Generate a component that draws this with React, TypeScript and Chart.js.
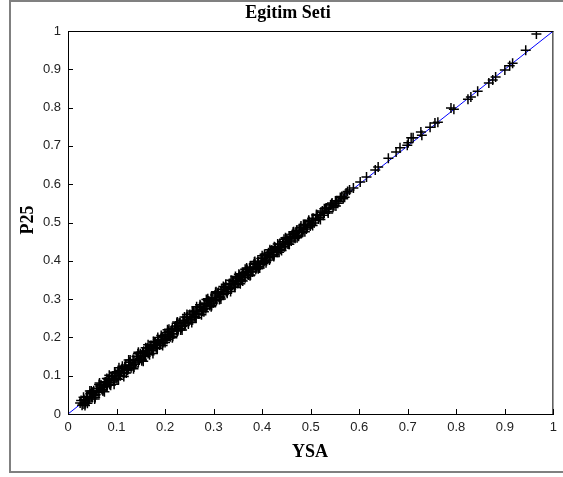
import React, { useEffect, useRef } from "react";
import { Chart, registerables } from "chart.js";

Chart.register(...registerables);

const titleText = "Egitim Seti";
const xLabel = "YSA";
const yLabel = "P25";
const tickValues = [0, 0.1, 0.2, 0.3, 0.4, 0.5, 0.6, 0.7, 0.8, 0.9, 1];
const refLineX = [0, 1];
const refLineY = [0, 1];

const ysa = [
  0.025, 0.029, 0.033, 0.036, 0.040, 0.044, 0.048, 0.051, 0.055, 0.059,
  0.062, 0.066, 0.070, 0.073, 0.077, 0.081, 0.084, 0.088, 0.092, 0.095,
  0.099, 0.103, 0.106, 0.110, 0.114, 0.117, 0.121, 0.125, 0.128, 0.132,
  0.136, 0.139, 0.143, 0.147, 0.150, 0.154, 0.158, 0.161, 0.165, 0.169,
  0.172, 0.176, 0.180, 0.183, 0.187, 0.191, 0.194, 0.198, 0.202, 0.205,
  0.209, 0.213, 0.216, 0.220, 0.224, 0.227, 0.231, 0.235, 0.238, 0.242,
  0.246, 0.249, 0.253, 0.257, 0.260, 0.264, 0.268, 0.271, 0.275, 0.279,
  0.282, 0.286, 0.290, 0.293, 0.297, 0.301, 0.304, 0.308, 0.312, 0.315,
  0.319, 0.323, 0.326, 0.330, 0.334, 0.337, 0.341, 0.345, 0.348, 0.352,
  0.356, 0.359, 0.363, 0.367, 0.370, 0.374, 0.378, 0.381, 0.385, 0.389,
  0.392, 0.396, 0.400, 0.404, 0.407, 0.411, 0.415, 0.418, 0.422, 0.426,
  0.429, 0.433, 0.437, 0.440, 0.444, 0.448, 0.451, 0.455, 0.459, 0.462,
  0.466, 0.470, 0.473, 0.477, 0.481, 0.485, 0.489, 0.493, 0.497, 0.501,
  0.505, 0.510, 0.514, 0.519, 0.524, 0.528, 0.533, 0.538, 0.543, 0.548,
  0.553, 0.558, 0.564, 0.570, 0.576,
  0.027, 0.031, 0.035, 0.038, 0.042, 0.046, 0.050, 0.053, 0.057, 0.060,
  0.064, 0.068, 0.072, 0.075, 0.079, 0.083, 0.086, 0.090, 0.094, 0.097,
  0.101, 0.105, 0.108, 0.112, 0.116, 0.119, 0.123, 0.127, 0.130, 0.134,
  0.138, 0.141, 0.145, 0.149, 0.152, 0.156, 0.160, 0.163, 0.167, 0.171,
  0.174, 0.178, 0.182, 0.185, 0.189, 0.193, 0.196, 0.200, 0.204, 0.207,
  0.211, 0.215, 0.218, 0.222, 0.226, 0.229, 0.233, 0.237, 0.240, 0.244,
  0.248, 0.251, 0.255, 0.259, 0.262, 0.266, 0.270, 0.273, 0.277, 0.281,
  0.284, 0.288, 0.292, 0.295, 0.299, 0.303, 0.306, 0.310, 0.314, 0.317,
  0.321, 0.325, 0.328, 0.332, 0.336, 0.339, 0.343, 0.347, 0.350, 0.354,
  0.358, 0.361, 0.365, 0.369, 0.372, 0.376, 0.380, 0.383, 0.387, 0.391,
  0.394, 0.398, 0.402, 0.405, 0.409, 0.413, 0.416, 0.420, 0.424, 0.427,
  0.431, 0.435, 0.438, 0.442, 0.446, 0.449, 0.453, 0.457, 0.460, 0.464,
  0.468, 0.471, 0.475, 0.479, 0.483, 0.487, 0.491, 0.495, 0.499, 0.503,
  0.507, 0.512, 0.516, 0.521, 0.526, 0.531, 0.536, 0.541, 0.546, 0.551,
  0.556, 0.561, 0.567, 0.573, 0.580,
  0.032, 0.040, 0.048, 0.056, 0.064, 0.072, 0.080, 0.088, 0.096, 0.104,
  0.112, 0.120, 0.128, 0.136, 0.144, 0.152, 0.160, 0.168, 0.176, 0.184,
  0.192, 0.200, 0.208, 0.216, 0.224, 0.232, 0.240, 0.248, 0.256, 0.264,
  0.272, 0.280, 0.288, 0.296, 0.304, 0.312, 0.320, 0.328, 0.336, 0.344,
  0.352, 0.360, 0.368, 0.376, 0.384, 0.392, 0.400, 0.408, 0.416, 0.424,
  0.432, 0.440, 0.448, 0.456, 0.464, 0.472, 0.480, 0.488, 0.496, 0.504,
  0.512, 0.520, 0.528, 0.536, 0.544, 0.552,
  0.035, 0.045, 0.055, 0.065, 0.075, 0.085, 0.095, 0.105, 0.115, 0.125,
  0.135, 0.145, 0.155, 0.165, 0.175, 0.185, 0.195, 0.205, 0.215, 0.225,
  0.235, 0.245, 0.255, 0.265, 0.275, 0.285, 0.295, 0.305, 0.315, 0.325,
  0.335, 0.345, 0.355, 0.365, 0.375, 0.385, 0.395, 0.405, 0.415, 0.425,
  0.435, 0.445, 0.455, 0.465, 0.475, 0.485,
  0.588, 0.602, 0.615, 0.633, 0.639, 0.660, 0.676, 0.684, 0.699, 0.701,
  0.707, 0.711, 0.727, 0.729, 0.746, 0.756, 0.762, 0.789, 0.795, 0.824,
  0.830, 0.844, 0.867, 0.875, 0.881, 0.900, 0.910, 0.916, 0.943, 0.965,
];

const p25 = [
  0.029, 0.023, 0.038, 0.031, 0.046, 0.039, 0.045, 0.057, 0.049, 0.062,
  0.058, 0.073, 0.064, 0.069, 0.084, 0.075, 0.088, 0.082, 0.099, 0.089,
  0.094, 0.110, 0.101, 0.115, 0.107, 0.124, 0.116, 0.119, 0.135, 0.127,
  0.140, 0.133, 0.150, 0.141, 0.146, 0.161, 0.152, 0.166, 0.158, 0.176,
  0.167, 0.170, 0.187, 0.178, 0.191, 0.185, 0.202, 0.192, 0.197, 0.212,
  0.203, 0.217, 0.210, 0.227, 0.218, 0.222, 0.238, 0.229, 0.243, 0.236,
  0.253, 0.243, 0.248, 0.264, 0.254, 0.269, 0.261, 0.279, 0.269, 0.273,
  0.289, 0.280, 0.295, 0.287, 0.304, 0.295, 0.299, 0.315, 0.306, 0.320,
  0.313, 0.330, 0.320, 0.325, 0.341, 0.331, 0.346, 0.338, 0.355, 0.346,
  0.351, 0.366, 0.357, 0.372, 0.364, 0.381, 0.372, 0.376, 0.392, 0.383,
  0.397, 0.390, 0.407, 0.398, 0.402, 0.418, 0.409, 0.423, 0.416, 0.433,
  0.423, 0.428, 0.443, 0.434, 0.449, 0.441, 0.458, 0.449, 0.454, 0.468,
  0.460, 0.475, 0.467, 0.483, 0.475, 0.481, 0.494, 0.487, 0.502, 0.496,
  0.511, 0.505, 0.519, 0.514, 0.530, 0.524, 0.538, 0.535, 0.548, 0.544,
  0.557, 0.555, 0.568, 0.566, 0.581,
  0.035, 0.026, 0.027, 0.045, 0.034, 0.053, 0.043, 0.061, 0.050, 0.067,
  0.056, 0.076, 0.063, 0.082, 0.071, 0.091, 0.077, 0.097, 0.086, 0.106,
  0.092, 0.113, 0.100, 0.119, 0.108, 0.128, 0.114, 0.135, 0.121, 0.142,
  0.130, 0.150, 0.136, 0.157, 0.142, 0.164, 0.151, 0.172, 0.159, 0.179,
  0.165, 0.186, 0.173, 0.194, 0.180, 0.201, 0.187, 0.208, 0.195, 0.216,
  0.202, 0.223, 0.209, 0.230, 0.217, 0.238, 0.224, 0.245, 0.231, 0.252,
  0.239, 0.260, 0.246, 0.267, 0.253, 0.274, 0.261, 0.282, 0.268, 0.289,
  0.275, 0.296, 0.283, 0.303, 0.290, 0.311, 0.297, 0.318, 0.305, 0.326,
  0.312, 0.333, 0.319, 0.340, 0.327, 0.348, 0.334, 0.355, 0.341, 0.362,
  0.349, 0.369, 0.356, 0.377, 0.363, 0.384, 0.371, 0.391, 0.378, 0.399,
  0.385, 0.406, 0.393, 0.413, 0.400, 0.421, 0.407, 0.428, 0.415, 0.435,
  0.422, 0.442, 0.430, 0.450, 0.437, 0.457, 0.444, 0.464, 0.452, 0.471,
  0.459, 0.479, 0.467, 0.486, 0.474, 0.494, 0.483, 0.502, 0.491, 0.510,
  0.499, 0.519, 0.509, 0.527, 0.519, 0.537, 0.529, 0.546, 0.540, 0.556,
  0.550, 0.565, 0.562, 0.577, 0.585,
  0.044, 0.028, 0.060, 0.043, 0.077, 0.060, 0.093, 0.075, 0.109, 0.091,
  0.125, 0.107, 0.141, 0.123, 0.157, 0.139, 0.173, 0.155, 0.189, 0.171,
  0.205, 0.187, 0.221, 0.203, 0.237, 0.219, 0.253, 0.235, 0.269, 0.251,
  0.285, 0.267, 0.301, 0.283, 0.317, 0.299, 0.333, 0.315, 0.349, 0.331,
  0.365, 0.347, 0.381, 0.363, 0.397, 0.379, 0.413, 0.395, 0.429, 0.411,
  0.444, 0.427, 0.460, 0.443, 0.475, 0.460, 0.491, 0.476, 0.506, 0.492,
  0.521, 0.508, 0.536, 0.525, 0.551, 0.543,
  0.022, 0.060, 0.039, 0.081, 0.058, 0.101, 0.078, 0.121, 0.098, 0.141,
  0.118, 0.161, 0.138, 0.181, 0.158, 0.200, 0.179, 0.220, 0.199, 0.240,
  0.219, 0.260, 0.239, 0.280, 0.259, 0.299, 0.280, 0.319, 0.300, 0.339,
  0.320, 0.359, 0.340, 0.378, 0.361, 0.398, 0.381, 0.417, 0.402, 0.437,
  0.422, 0.456, 0.443, 0.476, 0.464, 0.495,
  0.590, 0.606, 0.619, 0.637, 0.645, 0.668, 0.684, 0.695, 0.702, 0.708,
  0.721, 0.721, 0.736, 0.728, 0.749, 0.760, 0.762, 0.799, 0.796, 0.822,
  0.828, 0.843, 0.864, 0.872, 0.880, 0.898, 0.909, 0.916, 0.950, 0.992,
];

const W = 563;
const H = 477;

const decorPlugin = {
  id: "decor",
  afterDraw(chart: any) {
    const { ctx, chartArea } = chart;
    const { left, right, top, bottom } = chartArea;
    const xs = chart.scales.x;
    const ys = chart.scales.y;
    ctx.save();
    ctx.strokeStyle = "#000";
    ctx.lineWidth = 1;
    ctx.beginPath();
    ctx.moveTo(left, top + 0.5);
    ctx.lineTo(right, top + 0.5);
    ctx.moveTo(right - 0.5, top);
    ctx.lineTo(right - 0.5, bottom);
    for (const v of tickValues) {
      const px = Math.round(xs.getPixelForValue(v)) + 0.5;
      ctx.moveTo(px, bottom);
      ctx.lineTo(px, bottom - 5);
      const py = Math.round(ys.getPixelForValue(v)) + 0.5;
      ctx.moveTo(left, py);
      ctx.lineTo(left + 5, py);
    }
    ctx.stroke();

    ctx.fillStyle = "#000";
    ctx.font = 'bold 18px "Liberation Serif"';
    ctx.textAlign = "center";
    ctx.textBaseline = "alphabetic";
    ctx.fillText(titleText, 288, 18);
    ctx.fillText(xLabel, 310, 457);
    ctx.translate(33, 220);
    ctx.rotate(-Math.PI / 2);
    ctx.fillText(yLabel, 0, 0);
    ctx.restore();
  },
};

export default function App() {
  const ref = useRef<HTMLCanvasElement | null>(null);

  useEffect(() => {
    if (!ref.current) return;
    const points = ysa.map((x, i) => ({ x, y: p25[i] }));
    const line = refLineX.map((x, i) => ({ x, y: refLineY[i] }));
    const tickFont = { family: '"Liberation Sans", Arial, sans-serif', size: 13 };
    const chart = new Chart(ref.current, {
      type: "scatter",
      data: {
        datasets: [
          {
            data: points,
            pointStyle: "cross",
            pointRadius: 5,
            pointBorderWidth: 1.5,
            borderColor: "#000",
            backgroundColor: "#000",
            showLine: false,
            order: 0,
          },
          {
            type: "line",
            data: line,
            borderColor: "#0000ff",
            borderWidth: 1,
            pointRadius: 0,
            fill: false,
            order: 1,
          } as any,
        ],
      },
      options: {
        responsive: false,
        animation: false,
        layout: { padding: { top: 31, right: 7, left: 0, bottom: 0 } },
        plugins: {
          legend: { display: false },
          tooltip: { enabled: false },
          title: { display: false },
        },
        scales: {
          x: {
            type: "linear",
            min: 0,
            max: 1,
            afterBuildTicks: (s: any) => {
              s.ticks = tickValues.map((v) => ({ value: v }));
            },
            afterFit: (s: any) => {
              s.height = 63;
            },
            ticks: {
              autoSkip: false,
              maxRotation: 0,
              padding: 6,
              color: "#222",
              font: tickFont,
              callback: (v: any) => String(Number(Number(v).toFixed(1))),
            },
            grid: { display: false, drawTicks: false },
            border: { display: true, color: "#000", width: 1 },
          },
          y: {
            type: "linear",
            min: 0,
            max: 1,
            afterBuildTicks: (s: any) => {
              s.ticks = tickValues.map((v) => ({ value: v }));
            },
            afterFit: (s: any) => {
              s.width = 68;
            },
            ticks: {
              autoSkip: false,
              padding: 7,
              color: "#222",
              font: tickFont,
              callback: (v: any) => String(Number(Number(v).toFixed(1))),
            },
            grid: { display: false, drawTicks: false },
            border: { display: true, color: "#000", width: 1 },
          },
        },
      },
      plugins: [decorPlugin],
    });
    return () => chart.destroy();
  }, []);

  return (
    <div
      style={{
        position: "absolute",
        left: 0,
        top: 0,
        width: W,
        height: H,
        background: "#fff",
        overflow: "hidden",
      }}
    >
      <div
        style={{
          position: "absolute",
          left: 9,
          top: 0,
          width: W - 9,
          height: 473,
          boxSizing: "border-box",
          borderLeft: "2px solid #808080",
          borderTop: "2px solid #808080",
          borderBottom: "2px solid #808080",
        }}
      />
      <canvas
        ref={ref}
        width={W}
        height={H}
        style={{ position: "absolute", left: 0, top: 0, width: W, height: H }}
      />
    </div>
  );
}
